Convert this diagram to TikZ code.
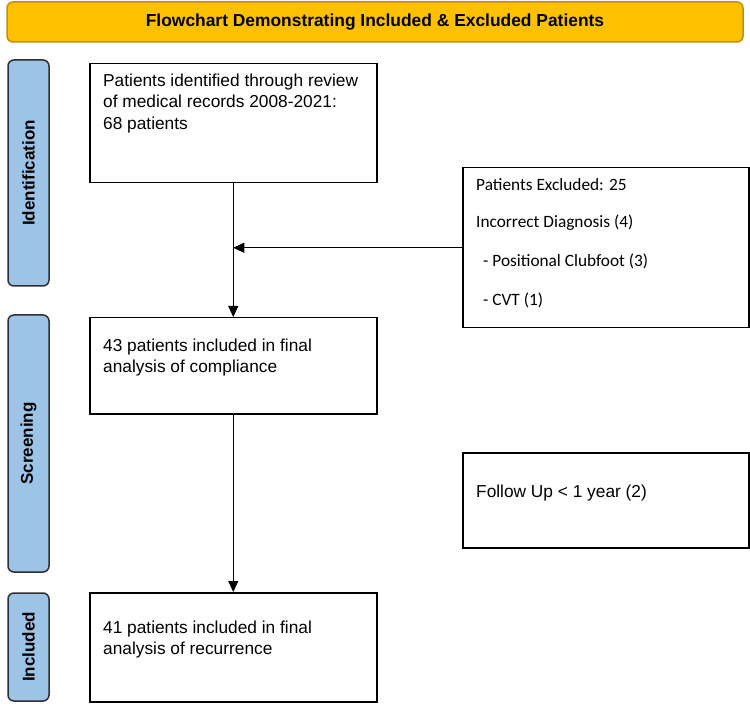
\documentclass[tikz,border=0pt]{standalone}
\usepackage{fontspec}
\setmainfont{Liberation Sans}
\newfontfamily\calib{Carlito}
\usetikzlibrary{arrows.meta}
\definecolor{gold}{HTML}{FFC000}
\definecolor{goldedge}{HTML}{BF9000}
\definecolor{sideblue}{HTML}{9DC3E6}
\definecolor{sideedge}{HTML}{2F2F2F}
\newcommand{\lines}[1]{\vtop{\baselineskip=21.5pt\lineskiplimit=0pt\halign{##\hfil\cr#1\crcr}}}
\tikzset{
  titlebox/.style={draw=goldedge, fill=gold, line width=1.5pt, rounded corners=6pt, inner sep=0pt, font=\fontsize{17.4}{20}\selectfont\bfseries},
  sidebox/.style={draw=sideedge, fill=sideblue, line width=1.5pt, rounded corners=6pt, inner sep=0pt, rotate=90, font=\fontsize{17}{19}\selectfont\bfseries},
  flowbox/.style={draw=black, line width=1.5pt, inner sep=0pt, anchor=north west},
  txt/.style={anchor=base west, inner sep=0pt, font=\fontsize{17.3}{21.5}\selectfont},
  ctxt/.style={anchor=base west, inner sep=0pt, font=\calib\fontsize{17.3}{20}\selectfont},
  conn/.style={draw=black, line width=0.8pt, -{Triangle[length=11pt,width=10pt]}}
}
\begin{document}
\begin{tikzpicture}[x=1pt,y=-1pt]
\useasboundingbox (0,0) rectangle (750,719);
% title
\node[titlebox, minimum width=736pt, minimum height=40pt] (title) at (375,22) {Flowchart Demonstrating Included \& Excluded Patients};
% side labels
\node[sidebox, minimum width=226pt, minimum height=41pt] (ident) at (28.5,173) {Identification};
\node[sidebox, minimum width=257pt, minimum height=41pt] (screen) at (28.5,443.5) {Screening};
\node[sidebox, minimum width=108pt, minimum height=41pt] (incl) at (28.5,647) {Included};
% main boxes
\node[flowbox, minimum width=287pt, minimum height=119pt] (b1) at (89,63) {};
\node[flowbox, minimum width=287pt, minimum height=96pt] (b2) at (89,317) {};
\node[flowbox, minimum width=287pt, minimum height=109pt] (b3) at (89,592) {};
% exclusion boxes
\node[flowbox, minimum width=286pt, minimum height=160pt] (ex) at (462,167) {};
\node[flowbox, minimum width=286pt, minimum height=95pt] (fu) at (462,452) {};
% texts
\node[txt] (t1) at (103,86.5) {\lines{Patients identified through review\cr of medical records 2008-2021:\cr 68 patients}};
\node[txt] (t2) at (103,351.5) {\lines{43 patients included in final\cr analysis of compliance}};
\node[txt] (t3) at (103,633) {\lines{41 patients included in final\cr analysis of recurrence}};
\node[ctxt] (e1) at (476,190.5) {Patients Excluded: 25};
\node[ctxt] (e2) at (476,228) {Incorrect Diagnosis (4)};
\node[ctxt] (e3) at (483,267) {- Positional Clubfoot (3)};
\node[ctxt] (e4) at (483,306) {- CVT (1)};
\node[txt] (f1) at (476,497) {Follow Up < 1 year (2)};
% connectors
\coordinate (j) at (ex.west -| b1.south);
\draw[conn] (b1.south) -- (b2.north);
\draw[conn] (ex.west) -- (j);
\draw[conn] (b2.south) -- (b3.north);
\end{tikzpicture}
\end{document}
